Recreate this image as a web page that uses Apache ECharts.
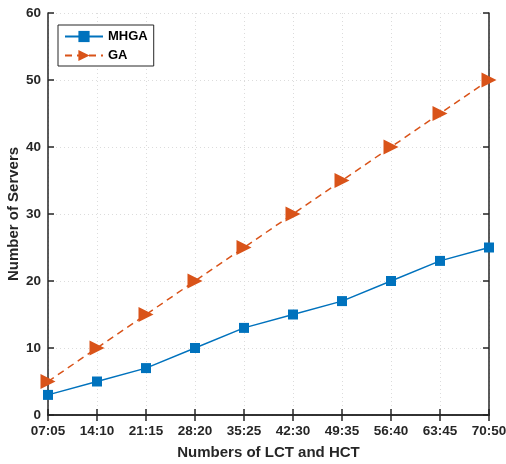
<!DOCTYPE html>
<html>
<head>
<meta charset="utf-8">
<script src="https://cdn.jsdelivr.net/npm/echarts@6/dist/echarts.min.js"></script>
<style>html,body{margin:0;padding:0;background:#fff;}#c{width:506px;height:464px;}</style>
</head>
<body>
<div id="c"></div>
<script>
const categories = ['07:05','14:10','21:15','28:20','35:25','42:30','49:35','56:40','63:45','70:50'];
const mhga = [3,5,7,10,13,15,17,20,23,25];
const ga = [5,10,15,20,25,30,35,40,45,50];
const yTicks = {min:0, max:60, interval:10};

const chart = echarts.init(document.getElementById('c'), null, {renderer:'canvas'});
const txt = '#262626';
const font = 'Liberation Sans, Arial, sans-serif';
const axisLine = {show:true, lineStyle:{color:'#262626', width:1.5}};
chart.setOption({
  animation:false,
  backgroundColor:'#fff',
  grid:{left:48, right:17, top:13, bottom:49, outerBoundsMode:'none', containLabel:false},
  legend:{
    left:58, top:25, orient:'vertical', itemGap:6, itemWidth:38, itemHeight:14,
    padding:[5,6,4,6], borderColor:'#262626', borderWidth:1, backgroundColor:'#fff',
    textStyle:{fontFamily:font, fontWeight:'bold', fontSize:13, color:'#000'},
    data:['MHGA','GA']
  },
  xAxis:[{
    type:'category', data:categories, boundaryGap:false,
    axisLine:axisLine,
    axisTick:{show:true, inside:true, length:6, lineStyle:{color:'#262626',width:1.5}},
    axisLabel:{fontFamily:font, fontWeight:'bold', fontSize:13.5, color:txt, margin:9},
    splitLine:{show:true, lineStyle:{color:'#dcdcdc', type:[1,3], width:1}},
    name:'Numbers of LCT and HCT', nameLocation:'middle', nameGap:30, nameMoveOverlap:false,
    nameTextStyle:{fontFamily:font, fontWeight:'bold', fontSize:15, color:txt}
  },{
    type:'category', data:categories, boundaryGap:false, position:'top',
    axisLine:axisLine,
    axisTick:{show:true, inside:true, length:6, lineStyle:{color:'#262626',width:1.5}},
    axisLabel:{show:false}, splitLine:{show:false}
  }],
  yAxis:[{
    type:'value', min:yTicks.min, max:yTicks.max, interval:yTicks.interval,
    axisLine:axisLine,
    axisTick:{show:true, inside:true, length:6, lineStyle:{color:'#262626',width:1.5}},
    axisLabel:{fontFamily:font, fontWeight:'bold', fontSize:13.5, color:txt, margin:7},
    splitLine:{show:true, lineStyle:{color:'#dcdcdc', type:[1,3], width:1}},
    name:'Number of Servers', nameLocation:'middle', nameGap:27, nameMoveOverlap:false,
    nameTextStyle:{fontFamily:font, fontWeight:'bold', fontSize:15, color:txt}
  },{
    type:'value', min:yTicks.min, max:yTicks.max, interval:yTicks.interval, position:'right',
    axisLine:axisLine,
    axisTick:{show:true, inside:true, length:6, lineStyle:{color:'#262626',width:1.5}},
    axisLabel:{show:false}, splitLine:{show:false}
  }],
  series:[{
    name:'MHGA', type:'line', data:mhga, color:'#0072BD',
    symbol:'rect', symbolSize:10, showAllSymbol:true,
    lineStyle:{width:1.5, color:'#0072BD'},
    itemStyle:{color:'#0072BD'}
  },{
    name:'GA', type:'line', data:ga, color:'#D95319',
    symbol:'triangle', symbolSize:[15,15], symbolRotate:-90, showAllSymbol:true,
    lineStyle:{width:1.5, color:'#D95319', type:[7,5]},
    itemStyle:{color:'#D95319'}
  }]
});
</script>
</body>
</html>
